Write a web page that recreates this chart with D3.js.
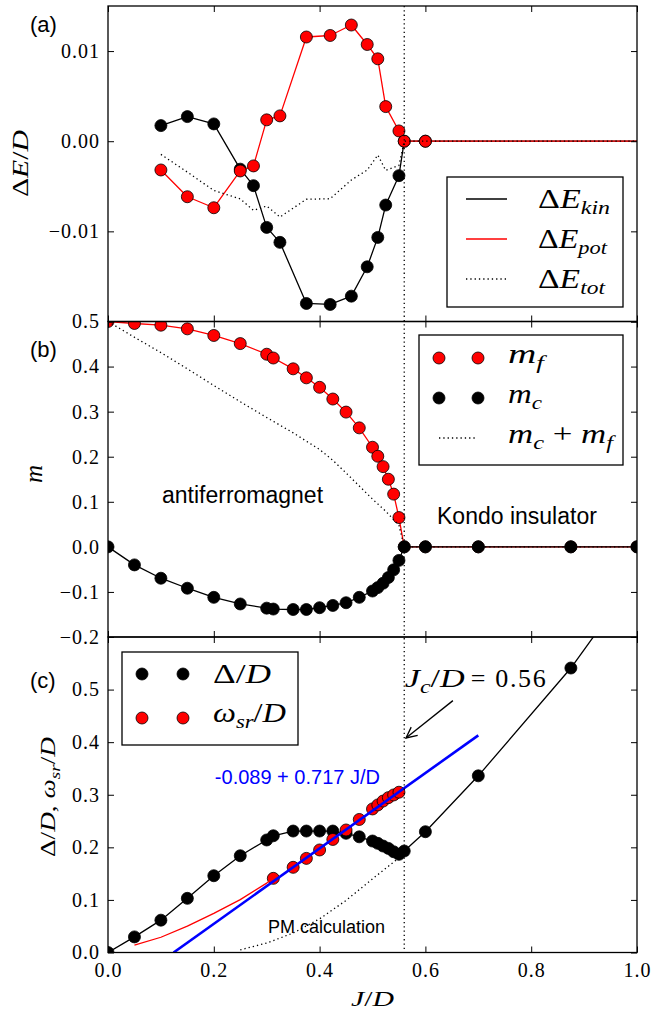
<!DOCTYPE html>
<html><head><meta charset="utf-8">
<script src="https://cdn.jsdelivr.net/npm/d3@7"></script>
<style>body{margin:0;background:#fff} svg{display:block}</style>
</head><body>
<svg id="chart" width="653" height="1014"></svg>
<script>
// ---------------- data ----------------
// panel (a): energy differences
const aJ   = [0.1,0.15,0.2,0.25,0.275,0.3,0.325,0.375,0.42,0.46,0.49,0.51,0.525,0.55,0.56,0.6,1.0];
const aKin = [0.00173,0.00273,0.00192,-0.0031,-0.00493,-0.00956,-0.01122,-0.0180,-0.01811,-0.01719,-0.01393,-0.01067,-0.00708,-0.00382,0,0,0];
const aPot = [-0.00319,-0.00616,-0.00738,-0.0033,-0.00274,0.00237,0.00281,0.01156,0.01173,0.01289,0.01073,0.00914,0.00384,0.00114,0,0,0];
const aTot = [-0.00146,-0.00343,-0.00546,-0.0064,-0.00767,-0.00719,-0.00841,-0.00644,-0.00638,-0.0043,-0.0032,-0.00153,-0.00324,-0.00268,0,0,0];
const aMarkMaxJ = 0.6;
// panel (b): magnetizations
const bJ  = [0,0.05,0.1,0.15,0.2,0.25,0.3,0.3125,0.35,0.375,0.4,0.425,0.45,0.475,0.5,0.51,0.52,0.53,0.54,0.55,0.56,0.6,0.7,0.875,1.0];
const bMf = [0.5,0.4956,0.4918,0.4837,0.469,0.451,0.4274,0.419,0.395,0.375,0.354,0.328,0.299,0.264,0.221,0.201,0.178,0.150,0.117,0.065,0,0,0,0,0];
const bMc = [0,-0.040,-0.0696,-0.0918,-0.112,-0.1267,-0.136,-0.138,-0.139,-0.139,-0.135,-0.130,-0.124,-0.112,-0.098,-0.0904,-0.0807,-0.068,-0.051,-0.030,0,0,0,0,0];
const bSumJ = [0,0.05,0.1,0.15,0.2,0.25,0.3,0.35,0.4,0.425,0.45,0.475,0.5,0.525,0.55,0.56,1.0];
const bSum  = [0.5,0.465,0.431,0.395,0.358,0.322,0.287,0.253,0.216,0.192,0.164,0.135,0.106,0.079,0.048,0,0];
// panel (c): gaps
const cJ   = [0,0.05,0.1,0.15,0.2,0.25,0.3,0.3125,0.35,0.375,0.4,0.425,0.45,0.475,0.5,0.51,0.52,0.53,0.54,0.55,0.56,0.6,0.7,0.875,1.0];
const cGap = [0,0.0297,0.0615,0.103,0.146,0.184,0.214,0.222,0.231,0.231,0.231,0.231,0.2267,0.220,0.212,0.2076,0.2025,0.198,0.1916,0.1867,0.193,0.2297,0.336,0.541,0.715];
const cWJ  = [0.3125,0.35,0.375,0.4,0.425,0.45,0.475,0.5,0.51,0.52,0.53,0.54,0.55];
const cW   = [0.141,0.162,0.179,0.195,0.215,0.233,0.253,0.273,0.2806,0.288,0.2945,0.2996,0.3048];
const cFitJ = [0.05,0.1,0.15,0.2,0.25,0.3,0.3125];
const cFit  = [0.014,0.029,0.050,0.0745,0.1005,0.132,0.141];
const cLinJ = [0.124,0.7];
const cLin  = [0,0.413];
const cPmJ = [0.25,0.3,0.35,0.4,0.45,0.5,0.55,0.56];
const cPm  = [0.005,0.018,0.037,0.064,0.099,0.14,0.18,0.19];
const Jc = 0.56;
// ticks
const xTicks = [0,0.2,0.4,0.6,0.8,1.0];
const aTicks = [-0.02,-0.01,0,0.01];
const bTicks = [-0.2,-0.1,0,0.1,0.2,0.3,0.4,0.5];
const cTicks = [0,0.1,0.2,0.3,0.4,0.5,0.6];

// ---------------- layout ----------------
const svg = d3.select('#chart');
const L = 108, R = 637;
const x = d3.scaleLinear().domain([0,1]).range([L,R]);
const P = [
  {top:6, bot:321.5},
  {top:321.5, bot:637},
  {top:637, bot:952.5}
];
const ya = d3.scaleLinear().domain([-0.02,0.015]).range([P[0].bot,P[0].top]);
const yb = d3.scaleLinear().domain([-0.2,0.5]).range([P[1].bot,P[1].top]);
const yc = d3.scaleLinear().domain([0,0.6]).range([P[2].bot,P[2].top]);
const SERIF = "'Liberation Serif', 'DejaVu Serif', serif";
const SANS = "'Liberation Sans', Arial, Helvetica, sans-serif";
const RED = '#ff0000', BLUE = '#0000ff';
const DOT = '1.3,3';

const defs = svg.append('defs');
P.forEach((p,i) => {
  defs.append('clipPath').attr('id','clip'+i).append('rect')
    .attr('x',L).attr('y',p.top).attr('width',R-L).attr('height',p.bot-p.top);
});

function zip(J,V){ return J.map((j,i)=>[j,V[i]]); }

function drawLine(g, y, pts, color, width, dash){
  const ln = d3.line().x(d=>x(d[0])).y(d=>y(d[1]));
  const p = g.append('path').datum(pts).attr('d',ln).attr('fill','none')
    .attr('stroke',color).attr('stroke-width',width).attr('stroke-linejoin','round');
  if (dash) p.attr('stroke-dasharray',dash);
  return p;
}
function drawMarks(g, y, pts, fill){
  g.selectAll(null).data(pts).enter().append('circle')
    .attr('cx',d=>x(d[0])).attr('cy',d=>y(d[1])).attr('r',6)
    .attr('fill',fill).attr('stroke','#000').attr('stroke-width',0.8);
}

function math(g, parts, o){
  const t = g.append('text').attr('x',o.x).attr('y',o.y)
    .style('font-family',SERIF).attr('font-size',o.size).attr('fill',o.fill||'#000')
    .attr('text-anchor',o.anchor||'start');
  if (o.rotate) t.attr('transform',`rotate(-90 ${o.x} ${o.y})`);
  let sub = false;
  parts.forEach(([s,k]) => {
    const ts = t.append('tspan').text(s);
    if (k==='i' || k==='s') ts.attr('font-style','italic');
    if (k==='s') {
      ts.attr('font-size', o.size*0.7);
      if (!sub) { ts.attr('dy', o.size*0.22); sub = true; }
    } else if (sub) { ts.attr('dy', -o.size*0.22); sub = false; }
  });
  if (o.len) t.attr('textLength',o.len).attr('lengthAdjust',o.adjust||'spacingAndGlyphs');
  return t;
}

function axes(y, p, yt, fmt, xlab){
  const g = svg.append('g');
  g.append('g').attr('transform',`translate(${L},0)`)
    .call(d3.axisLeft(y).tickValues(yt).tickSize(-6).tickPadding(8).tickFormat(fmt));
  g.append('g').attr('transform',`translate(${R},0)`)
    .call(d3.axisRight(y).tickValues(yt).tickSize(-6).tickFormat(''));
  g.append('g').attr('transform',`translate(0,${p.bot})`)
    .call(d3.axisBottom(x).tickValues(xTicks).tickSize(-6).tickPadding(10)
      .tickFormat(xlab ? d3.format('.1f') : ''));
  g.append('g').attr('transform',`translate(0,${p.top})`)
    .call(d3.axisTop(x).tickValues(xTicks).tickSize(-6).tickFormat(''));
  g.selectAll('.domain').remove();
  g.selectAll('.tick line').attr('stroke','#000').attr('stroke-width',1);
  g.selectAll('.tick text').style('font-family',SERIF).style('font-size','20px')
    .attr('fill','#000').attr('letter-spacing',1);
}

// ---------------- panel (a) ----------------
{
  const g = svg.append('g').attr('clip-path','url(#clip0)');
  const kin = zip(aJ,aKin), pot = zip(aJ,aPot), tot = zip(aJ,aTot);
  drawLine(g, ya, kin, '#000', 1.3);
  drawMarks(g, ya, kin.filter(d=>d[0]<=aMarkMaxJ), '#000');
  drawLine(g, ya, pot, RED, 1.3);
  drawMarks(g, ya, pot.filter(d=>d[0]<=aMarkMaxJ), RED);
  drawLine(g, ya, tot, '#000', 1.3, DOT);
}
// ---------------- panel (b) ----------------
{
  const g = svg.append('g').attr('clip-path','url(#clip1)');
  const mf = zip(bJ,bMf), mc = zip(bJ,bMc);
  drawLine(g, yb, mf, RED, 1.3);
  drawMarks(g, yb, mf, RED);
  drawLine(g, yb, mc, '#000', 1.3);
  drawMarks(g, yb, mc, '#000');
  drawLine(g, yb, zip(bSumJ,bSum), '#000', 1.3, DOT);
}
// ---------------- panel (c) ----------------
{
  const g = svg.append('g').attr('clip-path','url(#clip2)');
  const gap = zip(cJ,cGap);
  drawLine(g, yc, gap, '#000', 1.3);
  drawMarks(g, yc, gap, '#000');
  drawMarks(g, yc, zip(cWJ,cW), RED);
  drawLine(g, yc, zip(cFitJ,cFit), RED, 1.3);
  drawLine(g, yc, zip(cLinJ,cLin), BLUE, 2.6);
  drawLine(g, yc, zip(cPmJ,cPm), '#000', 1.3, DOT);
}

// vertical critical line
svg.append('line').attr('x1',x(Jc)).attr('x2',x(Jc)).attr('y1',P[0].top).attr('y2',P[2].bot)
  .attr('stroke','#000').attr('stroke-width',1.3).attr('stroke-dasharray',DOT);

// axes & frames
axes(ya, P[0], aTicks, v => v===-0.02 ? '' : d3.format('.2f')(v), false);
axes(yb, P[1], bTicks, d3.format('.1f'), false);
axes(yc, P[2], cTicks, v => v===0.6 ? '' : d3.format('.1f')(v), true);
P.forEach(p => svg.append('rect').attr('x',L).attr('y',p.top).attr('width',R-L)
  .attr('height',p.bot-p.top).attr('fill','none').attr('stroke','#000').attr('stroke-width',1.3));

// axis labels
math(svg, [['Δ','r'],['E','i'],['/','r'],['D','i']], {x:28, y:163.5, size:23, anchor:'middle', rotate:true, len:67});
math(svg, [['m','i']], {x:42, y:474, size:25, anchor:'middle', rotate:true});
math(svg, [['Δ','r'],['/','r'],['D','i'],[', ','r'],['ω','i'],['sr','s'],['/','r'],['D','i']], {x:55, y:797, size:22, anchor:'middle', rotate:true, len:120});
math(svg, [['J','i'],['/','r'],['D','i']], {x:372.5, y:1006, size:22, anchor:'middle', len:43});

// panel letters
[['(a)',32],['(b)',357],['(c)',688]].forEach(([t,yy]) =>
  svg.append('text').attr('x',30).attr('y',yy).style('font-family',SANS).attr('font-size',22).text(t));

// annotations
svg.append('text').attr('x',x(0.102)).attr('y',yb(0.098)).style('font-family',SANS).attr('font-size',23).text('antiferromagnet');
svg.append('text').attr('x',x(0.622)).attr('y',yb(0.05)).style('font-family',SANS).attr('font-size',23).text('Kondo insulator');
svg.append('text').attr('x',x(0.202)).attr('y',yc(0.321)).style('font-family',SANS).attr('font-size',20).attr('fill',BLUE).text('-0.089 + 0.717 J/D');
svg.append('text').attr('x',x(0.3025)).attr('y',yc(0.038)).style('font-family',SANS).attr('font-size',18).text('PM calculation');
math(svg, [['J','i'],['c','s'],['/','r'],['D','i']], {x:x(0.561), y:yc(0.505), size:26, len:60});
math(svg, [['= 0.56','r']], {x:x(0.561)+66, y:yc(0.505), size:26, len:75, adjust:'spacing'});

// arrow
{
  const x1 = x(0.652), y1 = yc(0.479), x2 = x(0.5633), y2 = yc(0.408);
  svg.append('line').attr('x1',x1).attr('y1',y1).attr('x2',x2).attr('y2',y2).attr('stroke','#000').attr('stroke-width',1.3);
  const ang = Math.atan2(y1-y2, x1-x2), hl = 12, ha = 0.45;
  const p1 = [x2+hl*Math.cos(ang+ha), y2+hl*Math.sin(ang+ha)];
  const p2 = [x2+hl*Math.cos(ang-ha), y2+hl*Math.sin(ang-ha)];
  svg.append('path').attr('d',`M${p1[0]},${p1[1]}L${x2},${y2}L${p2[0]},${p2[1]}`)
    .attr('fill','none').attr('stroke','#000').attr('stroke-width',1.3);
}

// legends
function legendBox(x0,y0,x1,y1){
  svg.append('rect').attr('x',x0).attr('y',y0).attr('width',x1-x0).attr('height',y1-y0)
    .attr('fill','#fff').attr('stroke','#000').attr('stroke-width',1.3);
}
// (a)
legendBox(447,177,623,307);
[[199,'#000',null,'kin',72],[239,RED,null,'pot',69],[279,'#000',DOT,'tot',67]].forEach(([yy,c,dash,sub,len]) => {
  const l = svg.append('line').attr('x1',466).attr('x2',507).attr('y1',yy).attr('y2',yy)
    .attr('stroke',c).attr('stroke-width',1.3);
  if (dash) l.attr('stroke-dasharray',dash);
  math(svg, [['Δ','r'],['E','i'],[sub,'s']], {x:538, y:yy+9, size:27, len:len});
});
// (b)
legendBox(419,335,623,465);
[[358,RED],[398,'#000']].forEach(([yy,c]) => {
  [439,478].forEach(xx => svg.append('circle').attr('cx',xx).attr('cy',yy).attr('r',6)
    .attr('fill',c).attr('stroke','#000').attr('stroke-width',0.8));
});
svg.append('line').attr('x1',439).attr('x2',476).attr('y1',438).attr('y2',438)
  .attr('stroke','#000').attr('stroke-width',1.3).attr('stroke-dasharray',DOT);
math(svg, [['m','i'],['f','s']], {x:508, y:363, size:27, len:36});
math(svg, [['m','i'],['c','s']], {x:508, y:403, size:27, len:34});
math(svg, [['m','i'],['c','s'],[' + ','r'],['m','i'],['f','s']], {x:508, y:443, size:27, len:105});
// (c)
legendBox(122,652,298,745);
[[674,'#000'],[718,RED]].forEach(([yy,c]) => {
  [142,183].forEach(xx => svg.append('circle').attr('cx',xx).attr('cy',yy).attr('r',6)
    .attr('fill',c).attr('stroke','#000').attr('stroke-width',0.8));
});
math(svg, [['Δ','r'],['/','r'],['D','i']], {x:213, y:683, size:27, len:58});
math(svg, [['ω','i'],['sr','s'],['/','r'],['D','i']], {x:213, y:722, size:27, len:73});
</script>
</body></html>
